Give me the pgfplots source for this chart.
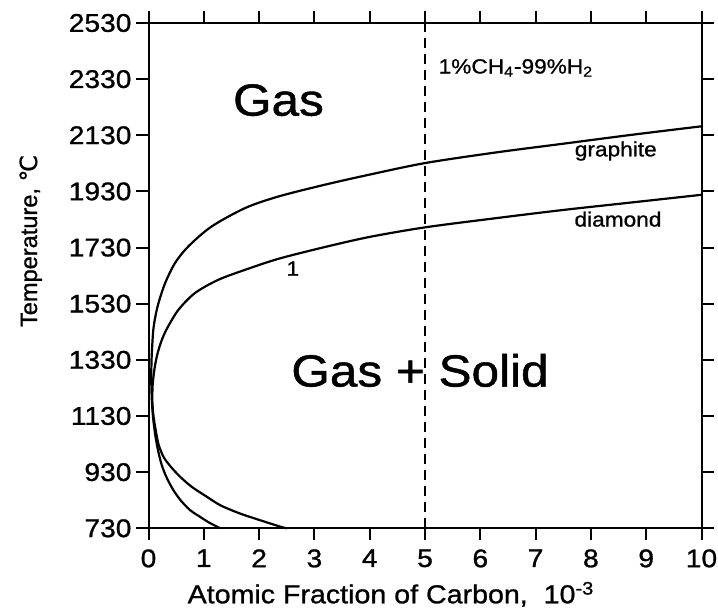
\documentclass[border=0pt]{standalone}
\usepackage{pgfplots}
\pgfplotsset{compat=1.18}
\usepackage{fontspec}
\setmainfont[FakeStretch=1.1, FakeBold=1.0]{Liberation Sans}
\newfontfamily\plainsans[FakeBold=1.0]{Liberation Sans}
\newfontfamily\dejavu[FakeBold=1.0]{DejaVu Sans}
\begin{document}
\begin{tikzpicture}
\begin{axis}[
  scale only axis,
  width=276.5pt, height=252.65pt,
  xmin=0, xmax=10, ymin=730, ymax=2530,
  xtick={0,1,...,10},
  ytick={730,930,1130,1330,1530,1730,1930,2130,2330,2530},
  xtick pos=both, ytick pos=both,
  xticklabel pos=lower, yticklabel pos=left,
  tick align=outside,
  major tick length=6pt,
  axis line style={line width=1pt},
  every tick/.style={black, line width=1pt},
  /pgf/number format/assume math mode=true,
  /pgf/number format/1000 sep={},
  ticklabel style={font=\fontsize{12.8}{15}\selectfont},
  yticklabel style={xshift=1pt},
  xticklabel style={yshift=-1pt},
  clip=false,
]
\coordinate (bbll) at (rel axis cs:-0.26854,-0.16367);
\coordinate (bbur) at (rel axis cs:1.02984,1.04552);

% graphite
\addplot[black, line width=1.1pt, smooth, tension=0.5] coordinates {
(1.30,730) (1.10,750) (0.90,775) (0.75,795) (0.58,830) (0.45,866) (0.33,910)
(0.24,955) (0.17,1010) (0.12,1065) (0.08,1130) (0.06,1190) (0.05,1260)
(0.055,1330) (0.07,1390) (0.087,1437) (0.12,1480) (0.18,1532) (0.30,1603)
(0.48,1675) (0.72,1734) (1.14,1805) (1.75,1871) (2.35,1912) (3.19,1954)
(4,1990) (5,2031) (6.25,2068) (7.5,2100) (8.75,2132) (10,2162)
};
% diamond
\addplot[black, line width=1.1pt, smooth, tension=0.5] coordinates {
(2.50,730) (2.38,736) (2.0,760) (1.65,783) (1.30,812) (1.05,843) (0.78,878)
(0.57,914) (0.40,950) (0.27,985) (0.18,1030) (0.13,1080) (0.09,1130)
(0.07,1180) (0.075,1240) (0.11,1300) (0.16,1350) (0.23,1395) (0.33,1440)
(0.54,1508) (0.84,1568) (1.26,1615) (1.75,1651) (2.35,1690) (3.19,1732)
(4,1768) (5,1802) (6.25,1834) (7.5,1864) (8.75,1891) (10,1918)
};
% 1% CH4 line
\addplot[black, line width=1.1pt, dash pattern=on 5pt off 3pt] coordinates {(5,730) (5,2530)};

\node[anchor=base, font=\fontsize{22.5}{26}\selectfont] at (axis cs:2.35,2200) {Gas};
\node[anchor=base, font=\fontsize{22.5}{26}\selectfont] at (axis cs:4.91,1235) {Gas + Solid};
\node[anchor=base west, inner sep=0pt, font=\fontsize{10.3}{12}\selectfont] at (axis cs:5.24,2350) {1\%CH\textsubscript{4}-99\%H\textsubscript{2}};
\node[anchor=base, inner sep=0pt, font=\fontsize{10.3}{12}\selectfont] at (axis cs:8.45,2055) {graphite};
\node[anchor=base, inner sep=0pt, font=\fontsize{10.3}{12}\selectfont] at (axis cs:8.49,1805) {diamond};
\node[anchor=base, inner sep=0pt, font=\fontsize{10.3}{12}\selectfont] at (axis cs:2.61,1630) {1};

\node[anchor=base, inner sep=0pt, font=\fontsize{13}{15}\selectfont] at (rel axis cs:0.4385,-0.1484) {Atomic Fraction of Carbon,\ \ 10\textsuperscript{-3}};
\node[anchor=base, inner sep=0pt, rotate=90, font=\fontsize{11.8}{14}\plainsans] at (rel axis cs:-0.2016,0.5686) {Temperature, {\dejavu ℃}};
\end{axis}
\pgfresetboundingbox
\path[use as bounding box] (bbll) rectangle (bbur);
\end{tikzpicture}
\end{document}
